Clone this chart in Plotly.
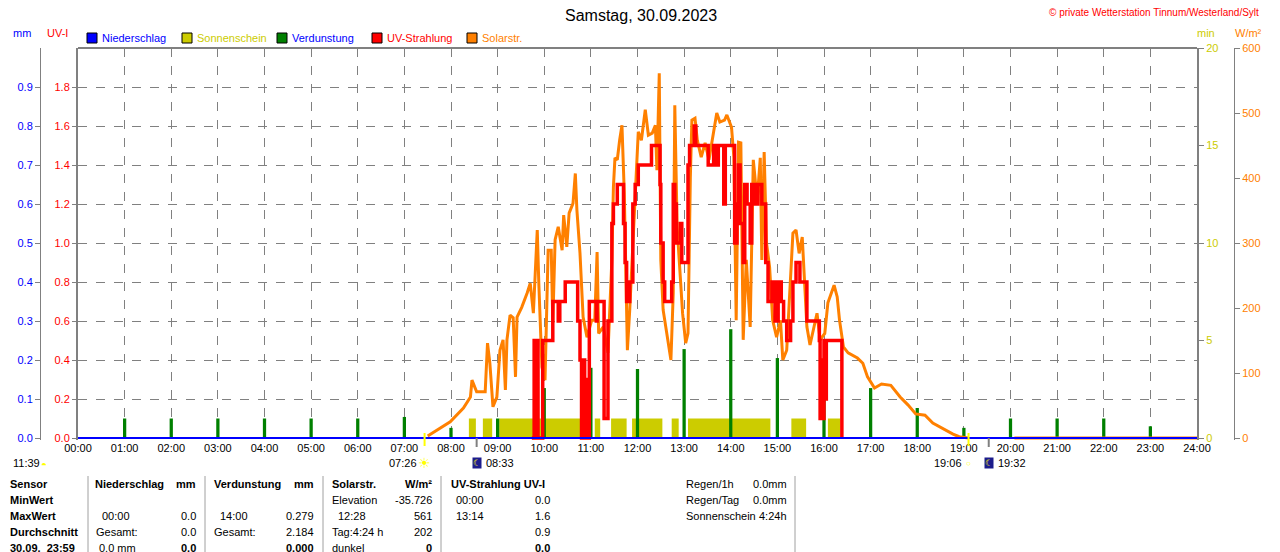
import plotly.graph_objects as go

# ---------------- Daten: Samstag 30.09.2023 ----------------
hour_ticks = [0, 1, 2, 3, 4, 5, 6, 7, 8, 9, 10, 11, 12, 13, 14, 15, 16, 17, 18, 19, 20, 21, 22, 23, 24]
hour_labels = ["00:00", "01:00", "02:00", "03:00", "04:00", "05:00", "06:00", "07:00", "08:00",
               "09:00", "10:00", "11:00", "12:00", "13:00", "14:00", "15:00", "16:00", "17:00",
               "18:00", "19:00", "20:00", "21:00", "22:00", "23:00", "24:00"]

uv_ticks = [0.0, 0.2, 0.4, 0.6, 0.8, 1.0, 1.2, 1.4, 1.6, 1.8]
uv_labels = ["0.0", "0.2", "0.4", "0.6", "0.8", "1.0", "1.2", "1.4", "1.6", "1.8"]
mm_ticks = [0.0, 0.1, 0.2, 0.3, 0.4, 0.5, 0.6, 0.7, 0.8, 0.9]
mm_labels = ["0.0", "0.1", "0.2", "0.3", "0.4", "0.5", "0.6", "0.7", "0.8", "0.9"]
min_ticks = [0, 5, 10, 15, 20]
wm2_ticks = [0, 100, 200, 300, 400, 500, 600]

# Niederschlag (mm)
niederschlag_times = ["00:00", "24:00"]
niederschlag_mm = [0.0, 0.0]

# Verdunstung (mm) je Stunde
verdunstung_times = ["01:00", "02:00", "03:00", "04:00", "05:00", "06:00", "07:00", "08:00",
                     "09:00", "10:00", "11:00", "12:00", "13:00", "14:00", "15:00", "16:00",
                     "17:00", "18:00", "19:00", "20:00", "21:00", "22:00", "23:00"]
verdunstung_mm = [0.05, 0.05, 0.05, 0.05, 0.05, 0.05, 0.054, 0.026, 0.05, 0.128, 0.18, 0.177,
                  0.228, 0.279, 0.205, 0.154, 0.128, 0.077, 0.026, 0.05, 0.05, 0.05, 0.03]

# Sonnenschein (min/min) als Intervalle
sonne_start = ["08:23", "08:41", "09:02", "11:05", "11:26", "11:53", "12:44", "13:05", "15:18", "16:05"]
sonne_ende = ["08:32", "08:53", "10:50", "11:12", "11:46", "12:32", "12:53", "14:51", "15:37", "16:21"]
sonne_min = [1, 1, 1, 1, 1, 1, 1, 1, 1, 1]

# Solarstrahlung (W/m2)
solar_times = ["07:30", "07:44", "07:59", "08:16", "08:25", "08:27", "08:33", "08:44", "08:47", "08:50",
               "08:54", "08:59", "09:03", "09:07", "09:10", "09:12", "09:16", "09:20", "09:23", "09:25",
               "09:31", "09:38", "09:42", "09:46", "09:48", "09:51", "09:53", "09:57", "10:01", "10:05",
               "10:09", "10:11", "10:14", "10:18", "10:23", "10:25", "10:29", "10:32", "10:37", "10:40",
               "10:42", "10:46", "10:50", "10:55", "11:01", "11:05", "11:08", "11:10", "11:16", "11:22",
               "11:27", "11:29", "11:31", "11:34", "11:37", "11:40", "11:43", "11:45", "11:47", "11:50",
               "11:54", "11:57", "12:01", "12:05", "12:10", "12:14", "12:19", "12:23", "12:25", "12:28",
               "12:30", "12:33", "12:38", "12:43", "12:46", "12:48", "12:51", "12:55", "12:58", "13:02",
               "13:05", "13:08", "13:10", "13:14", "13:17", "13:22", "13:27", "13:32", "13:37", "13:42",
               "13:46", "13:52", "13:55", "14:01", "14:04", "14:07", "14:10", "14:13", "14:16", "14:20",
               "14:25", "14:29", "14:34", "14:38", "14:40", "14:43", "14:46", "14:50", "14:54", "14:59",
               "15:04", "15:07", "15:12", "15:16", "15:20", "15:24", "15:28", "15:32", "15:35", "15:38",
               "15:42", "15:46", "15:51", "15:55", "16:01", "16:05", "16:10", "16:13", "16:17", "16:20",
               "16:25", "16:31", "16:43", "16:50", "16:56", "17:05", "17:14", "17:26", "17:38", "17:48",
               "17:58", "18:10", "18:20", "18:33", "18:46", "18:54", "19:06", None, "20:05", "24:00"]
solar_wm2 = [3, 14, 25, 46, 63, 89, 71, 71, 146, 115,
             48, 63, 135, 151, 74, 151, 189, 185, 94, 186,
             201, 223, 238, 192, 254, 320, 238, 109, 89, 289,
             289, 177, 305, 325, 289, 343, 294, 346, 361, 407,
             351, 284, 186, 155, 181, 181, 286, 161, 171, 131,
             274, 386, 431, 428, 458, 481, 377, 248, 135, 197,
             300, 371, 471, 458, 505, 466, 469, 481, 412, 561,
             274, 197, 161, 120, 223, 512, 325, 248, 192, 146,
             161, 401, 489, 492, 458, 432, 454, 428, 463, 500,
             486, 489, 497, 478, 432, 181, 455, 454, 151, 274,
             171, 428, 366, 431, 274, 440, 300, 263, 181, 155,
             181, 120, 135, 223, 315, 320, 284, 309, 243, 171,
             143, 166, 192, 151, 161, 208, 223, 235, 217, 181,
             140, 131, 123, 115, 94, 77, 83, 81, 63, 51,
             37, 35, 23, 14, 6, 2, 0, None, 0, 0]

# UV-Strahlung (UV-Index)
uv_times = ["09:44", "09:47", "09:49", "09:50", "09:52", "09:57", "09:58", "10:10", "10:11", "10:17",
            "10:18", "10:20", "10:26", "10:27", "10:42", "10:43", "10:46", "10:48", "10:50", "10:52",
            "10:54", "10:56", "10:58", "11:06", "11:07", "11:08", "11:15", "11:17", "11:22", "11:27",
            "11:29", "11:34", "11:40", "11:42", "11:44", "11:46", "11:50", "11:54", "11:57", "12:01",
            "12:16", "12:18", "12:27", "12:29", "12:30", "12:33", "12:35", "12:43", "12:44", "12:46",
            "12:48", "12:50", "12:55", "12:57", "13:03", "13:05", "13:07", "13:13", "13:15", "13:29",
            "13:31", "13:37", "13:38", "13:41", "13:44", "13:50", "13:51", "13:53", "14:03", "14:05",
            "14:08", "14:10", "14:12", "14:16", "14:18", "14:21", "14:25", "14:27", "14:31", "14:35",
            "14:40", "14:42", "14:45", "14:48", "14:53", "14:57", "15:01", "15:05", "15:08", "15:12",
            "15:17", "15:20", "15:24", "15:28", "15:29", "15:36", "15:38", "15:53", "15:54", "15:55",
            "15:57", "15:58", "16:00", "16:01", "16:03", "16:20", "16:23"]
uv_index = [0.0, 0.5, 0.0, 0.5, 0.0, 0.0, 0.5, 0.5, 0.7, 0.7,
            0.6, 0.7, 0.7, 0.8, 0.8, 0.6, 0.4, 0.0, 0.4, 0.0,
            0.3, 0.0, 0.7, 0.7, 0.6, 0.7, 0.7, 0.1, 0.6, 1.1,
            1.2, 1.3, 1.3, 1.1, 0.9, 0.7, 0.8, 1.2, 1.3, 1.4,
            1.4, 1.5, 1.5, 1.3, 1.0, 0.8, 0.7, 0.7, 0.8, 1.3,
            1.2, 1.0, 1.1, 0.9, 0.9, 1.4, 1.5, 1.6, 1.5, 1.5,
            1.4, 1.4, 1.5, 1.4, 1.5, 1.5, 1.2, 1.5, 1.5, 1.0,
            1.2, 1.4, 1.1, 0.9, 1.3, 1.2, 1.0, 1.3, 1.2, 1.3,
            1.2, 1.2, 0.9, 0.7, 0.8, 0.6, 0.8, 0.7, 0.6, 0.5,
            0.6, 0.8, 0.9, 0.9, 0.8, 0.8, 0.6, 0.6, 0.5, 0.1,
            0.4, 0.1, 0.5, 0.2, 0.5, 0.5, 0.0]

sonnenaufgang = "07:26"
sonnenuntergang = "19:06"
mond_zeit_1 = "08:33"
mond_zeit_2 = "19:32"
tageslaenge = "11:39"

# Die Seite hat 8 px Rand -> Figur um 8 px kleiner, Koordinaten in Fensterpixeln
OFF = 8
W, H = 1280 - OFF, 552 - OFF
TOP, BOTTOM = 48, 440          # Plotbereich in Fensterpixeln
FONT = "Liberation Sans, Arial, sans-serif"
GRAY = "#808080"


def hrs(t):
    if t is None:
        return None
    h, m = t.split(":")
    return int(h) + int(m) / 60.0


def px(x):
    return (x - OFF) / W


def py(y):
    return (BOTTOM - y) / (BOTTOM - TOP)


fig = go.Figure()

# Sonnenschein (Balken)
sun_x = [(hrs(a) + hrs(b)) / 2 for a, b in zip(sonne_start, sonne_ende)]
sun_w = [hrs(b) - hrs(a) for a, b in zip(sonne_start, sonne_ende)]
fig.add_trace(go.Bar(x=sun_x, y=sonne_min, width=sun_w, yaxis="y",
                     marker=dict(color="#cccc00", line=dict(width=0)), name="Sonnenschein"))

# Verdunstung
fig.add_trace(go.Bar(x=[hrs(t) for t in verdunstung_times], y=verdunstung_mm, width=0.07,
                     yaxis="y2", marker=dict(color="#008000", line=dict(width=0)), name="Verdunstung"))

# Solarstrahlung
fig.add_trace(go.Scatter(x=[hrs(t) for t in solar_times], y=solar_wm2, yaxis="y3", mode="lines",
                         line=dict(color="#ff8000", width=3), connectgaps=False, name="Solarstr."))

# UV-Strahlung
fig.add_trace(go.Scatter(x=[hrs(t) for t in uv_times], y=uv_index, yaxis="y4", mode="lines",
                         line=dict(color="#ff0000", width=3.5, shape="hv"), name="UV-Strahlung"))

# Niederschlag
fig.add_trace(go.Scatter(x=[hrs(t) for t in niederschlag_times], y=niederschlag_mm, yaxis="y5",
                         mode="lines", line=dict(color="#0000ff", width=2), name="Niederschlag"))

# 2 px Luft unter der Nulllinie
pad = 2 / (BOTTOM - TOP - 2)

fig.update_layout(
    width=W, height=H,
    margin=dict(l=0, r=0, t=TOP - OFF, b=H - (BOTTOM - OFF), pad=0),
    paper_bgcolor="white", plot_bgcolor="white",
    template="none",
    showlegend=False,
    barmode="overlay",
    font=dict(family=FONT, size=11, color="black"),
    xaxis=dict(domain=[px(78), px(1197)], range=[0, 24], tickmode="array",
               tickvals=hour_ticks, ticktext=hour_labels, ticks="", showline=False,
               showgrid=True, gridcolor=GRAY, griddash="dash", gridwidth=1, zeroline=False,
               tickfont=dict(size=11, color="black"), automargin=False, anchor="y"),
    yaxis=dict(side="right", range=[-20 * pad, 20], tickmode="array", tickvals=min_ticks,
               tickfont=dict(color="#cccc00", size=11), ticks="outside", ticklen=5,
               tickcolor=GRAY, showline=True, linecolor=GRAY, linewidth=2, mirror=True,
               showgrid=False, zeroline=False, automargin=False),
    yaxis2=dict(overlaying="y", anchor="free", position=px(40), side="left",
                range=[-1.0 * pad, 1.0], tickmode="array", tickvals=mm_ticks, ticktext=mm_labels,
                tickfont=dict(color="#0000ff", size=11), ticks="outside", ticklen=5,
                tickcolor=GRAY, showline=True, linecolor=GRAY, linewidth=1,
                showgrid=False, zeroline=False, automargin=False),
    yaxis3=dict(overlaying="y", anchor="free", position=px(1234), side="right",
                range=[-600 * pad, 600], tickmode="array", tickvals=wm2_ticks,
                tickfont=dict(color="#ff8000", size=11), ticks="outside", ticklen=5,
                tickcolor=GRAY, showline=True, linecolor=GRAY, linewidth=1,
                showgrid=False, zeroline=False, automargin=False),
    yaxis4=dict(overlaying="y", anchor="x", side="left", range=[-2.0 * pad, 2.0],
                tickmode="array", tickvals=uv_ticks, ticktext=uv_labels,
                tickfont=dict(color="#ff0000", size=11), ticks="outside", ticklen=5,
                tickcolor=GRAY, showline=False, showgrid=True, gridcolor=GRAY,
                griddash="dash", gridwidth=1, zeroline=False, automargin=False),
    yaxis5=dict(overlaying="y", anchor="x", range=[-1.0 * pad, 1.0], visible=False),
)

shapes = []
ann = []


def text(txt, x, y, anchor="left", size=11, color="black", xref="paper", xshift=0, **kw):
    ann.append(dict(text=txt, x=x, y=py(y), xref=xref, yref="paper", xanchor=anchor,
                    yanchor="middle", xshift=xshift, showarrow=False,
                    font=dict(size=size, color=color), **kw))


# oberer Rahmen
shapes.append(dict(type="line", xref="paper", yref="paper", x0=px(78), x1=px(1197),
                   y0=1, y1=1, line=dict(color=GRAY, width=2)))

# Titel + Copyright
text("Samstag, 30.09.2023", px(641), 15, anchor="center", size=16)
text("© private Wetterstation Tinnum/Westerland/Sylt", px(1261), 12, anchor="right",
     size=10, color="#ff0000")

# Achsentitel
for txt, x, col in [("mm", 22, "#0000ff"), ("UV-I", 57, "#ff0000"),
                    ("min", 1206, "#cccc00"), ("W/m²", 1248, "#ff8000")]:
    text(txt, px(x), 33, anchor="center", color=col)

# Legende
legend_items = [("Niederschlag", "#0000ff", "#0000ff", 87),
                ("Sonnenschein", "#cccc00", "#cccc00", 182),
                ("Verdunstung", "#008000", "#0000ff", 277),
                ("UV-Strahlung", "#ff0000", "#ff0000", 372),
                ("Solarstr.", "#ff8000", "#ff8000", 467)]
for name, box_col, txt_col, x in legend_items:
    shapes.append(dict(type="rect", xref="paper", yref="paper", x0=px(x), x1=px(x + 10),
                       y0=py(43), y1=py(33), fillcolor=box_col, line=dict(color="black", width=1)))
    text(name, px(x + 13), 38, color=txt_col)

# Sonnenauf-/untergang, Mondzeiten
for t in [sonnenaufgang, sonnenuntergang]:
    shapes.append(dict(type="line", xref="x", yref="paper", x0=hrs(t), x1=hrs(t),
                       y0=py(446), y1=py(433), line=dict(color="#ffff00", width=2)))
for t in [mond_zeit_1, mond_zeit_2]:
    shapes.append(dict(type="line", xref="x", yref="paper", x0=hrs(t), x1=hrs(t),
                       y0=py(447), y1=py(438), line=dict(color=GRAY, width=2)))

text(sonnenaufgang, hrs(sonnenaufgang), 463, anchor="right", xref="x", xshift=-6)
text("☀", hrs(sonnenaufgang), 463, anchor="center", xref="x", size=14, color="#ffff00")
text(sonnenuntergang, hrs(sonnenuntergang), 463, anchor="right", xref="x", xshift=-5)
text("○", hrs(sonnenuntergang), 463, anchor="center", xref="x", size=8, color="#ffff00")
for t in [mond_zeit_1, mond_zeit_2]:
    text("☾", hrs(t), 463, anchor="center", xref="x", size=9, color="#ffff00",
         bgcolor="#1c1c8c", borderpad=0)
    text(t, hrs(t), 463, anchor="left", xref="x", xshift=7)
text(tageslaenge, px(11), 463)
text("◓", px(44), 464, anchor="center", size=10, color="#ffff00")

# Tabelle unten
row_y = [484, 500, 516, 532, 548]
cells = [
    (0, 8, "left", "Sensor", True), (0, 93, "left", "Niederschlag", True),
    (0, 198, "right", "mm", True), (0, 212, "left", "Verdunstung", True),
    (0, 316, "right", "mm", True), (0, 330, "left", "Solarstr.", True),
    (0, 434, "right", "W/m²", True), (0, 449, "left", "UV-Strahlung UV-I", True),
    (0, 684, "left", "Regen/1h", False), (0, 789, "right", "0.0mm", False),
    (1, 8, "left", "MinWert", True), (1, 330, "left", "Elevation", False),
    (1, 434, "right", "-35.726", False), (1, 454, "left", "00:00", False),
    (1, 552, "right", "0.0", False), (1, 684, "left", "Regen/Tag", False),
    (1, 789, "right", "0.0mm", False),
    (2, 8, "left", "MaxWert", True), (2, 100, "left", "00:00", False),
    (2, 198, "right", "0.0", False), (2, 218, "left", "14:00", False),
    (2, 316, "right", "0.279", False), (2, 336, "left", "12:28", False),
    (2, 434, "right", "561", False), (2, 454, "left", "13:14", False),
    (2, 552, "right", "1.6", False), (2, 684, "left", "Sonnenschein", False),
    (2, 789, "right", "4:24h", False),
    (3, 8, "left", "Durchschnitt", True), (3, 94, "left", "Gesamt:", False),
    (3, 198, "right", "0.0", False), (3, 212, "left", "Gesamt:", False),
    (3, 316, "right", "2.184", False), (3, 330, "left", "Tag:4:24 h", False),
    (3, 434, "right", "202", False), (3, 552, "right", "0.9", False),
    (4, 8, "left", "30.09.  23:59", True), (4, 97, "left", "0.0 mm", False),
    (4, 198, "right", "0.0", True), (4, 316, "right", "0.000", True),
    (4, 330, "left", "dunkel", False), (4, 434, "right", "0", True),
    (4, 552, "right", "0.0", True),
]
for row, x, anchor, txt, bold in cells:
    text(f"<b>{txt}</b>" if bold else txt, px(x), row_y[row], anchor=anchor)

for x in [88, 205, 323, 441, 795]:
    shapes.append(dict(type="line", xref="paper", yref="paper", x0=px(x), x1=px(x),
                       y0=py(552), y1=py(476), line=dict(color="#a0a0a0", width=1)))

fig.update_layout(shapes=shapes, annotations=ann)

fig.write_html("out.html")
